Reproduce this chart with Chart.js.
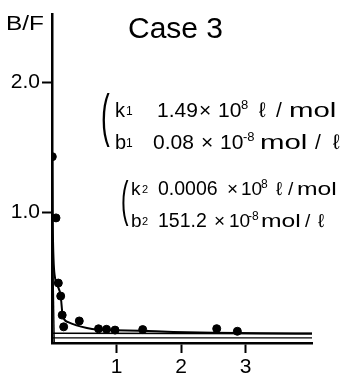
<!DOCTYPE html>
<html lang="en">
<head>
    <meta charset="UTF-8">
    <title>Case 3</title>
    <script src="https://cdn.jsdelivr.net/npm/chart.js"></script>
    <style>
        html, body { margin: 0; padding: 0; background: #fff; }
        .wrap { width: 349px; height: 379px; position: relative; }
    </style>
</head>
<body>
    <div class="wrap">
        <canvas id="myChart"></canvas>
    </div>
    <script>
        // measured points (B on x, B/F on y)
        const pointsX = [0.005, 0.062, 0.098, 0.135, 0.158, 0.181, 0.423, 0.721, 0.845, 0.977, 1.406, 2.553, 2.873];
        const pointsY = [1.43, 0.96, 0.46, 0.36, 0.214, 0.124, 0.169, 0.109, 0.105, 0.099, 0.103, 0.110, 0.090];

        // fitted curve
        const curveX = [0.005, 0.011, 0.047, 0.078, 0.135, 0.166, 0.25, 0.38, 0.54, 0.69, 0.98, 1.36, 1.88, 2.5, 3.22, 4.03];
        const curveY = [1.43, 0.92, 0.50, 0.45, 0.36, 0.21, 0.16, 0.135, 0.115, 0.103, 0.098, 0.094, 0.085, 0.079, 0.075, 0.073];

        // the two component lines + lower reference line
        const comp1X = [0.005, 0.035];
        const comp1Y = [0.9, 0];
        const comp2X = [0, 4.03];
        const comp2Y = [0.075, 0.072];
        const baseX = [0, 4.03];
        const baseY = [0.04, 0.04];

        const xTicks = [1, 2, 3];
        const yTicks = [1, 2];

        const xy = (xs, ys) => xs.map((x, i) => ({ x: x, y: ys[i] }));
        const FONT = '"Liberation Sans", Arial, sans-serif';

        // draws a run of text pieces: [text, x, size, baseline offset, horizontal stretch]
        function rich(ctx, y, parts) {
            for (const p of parts) {
                ctx.save();
                ctx.font = p[2] + 'px ' + FONT;
                ctx.translate(p[1], y + (p[3] || 0));
                ctx.scale(p[4] || 1, 1);
                ctx.fillText(p[0], 0, 0);
                ctx.restore();
            }
        }

        function paren(ctx, x, baseline, size) {
            ctx.save();
            ctx.font = size + 'px ' + FONT;
            ctx.translate(x, baseline);
            ctx.scale(0.45, 1);
            ctx.fillText('(', 0, 0);
            ctx.restore();
        }

        const labels = {
            id: 'labels',
            afterDraw(chart) {
                const ctx = chart.ctx;
                ctx.save();
                ctx.fillStyle = '#000';
                ctx.textAlign = 'left';
                ctx.textBaseline = 'alphabetic';

                rich(ctx, 30, [['B/F', 6, 19.5, 0, 1.25]]);
                rich(ctx, 38, [['Case 3', 128, 30]]);

                paren(ctx, 101, 135, 58);
                rich(ctx, 117, [
                    ['k', 115, 20], ['1', 126, 12, -2],
                    ['1.49', 157, 21], ['×', 199, 21], ['10', 218, 21],
                    ['8', 241, 13, -8], ['ℓ', 259, 21], ['/', 276, 21], ['mol', 289, 21, 0, 1.4]
                ]);
                rich(ctx, 149, [
                    ['b', 115, 20], ['1', 126, 12, -2],
                    ['0.08', 153, 21], ['×', 201, 21], ['10', 220, 21],
                    ['-8', 243, 13, -8], ['mol', 260, 21, 0, 1.4], ['/', 315, 21], ['ℓ', 333, 21]
                ]);

                paren(ctx, 121, 216, 50);
                rich(ctx, 195, [
                    ['k', 131, 19], ['2', 142, 11, -2],
                    ['0.0006', 158, 19.5], ['×', 227, 19], ['10', 241, 19],
                    ['8', 261, 12, -7], ['ℓ', 276, 19], ['/', 288, 19], ['mol', 297, 19, 0, 1.3]
                ]);
                rich(ctx, 227, [
                    ['b', 131, 19], ['2', 142, 11, -2],
                    ['151.2', 158, 19.5], ['×', 214, 19], ['10', 229, 19],
                    ['-8', 248, 12, -7], ['mol', 261, 19, 0, 1.3], ['/', 305, 19], ['ℓ', 318, 19]
                ]);
                ctx.restore();
            }
        };

        new Chart('myChart', {
            type: 'scatter',
            data: {
                datasets: [{
                    data: xy(pointsX, pointsY),
                    backgroundColor: '#000',
                    borderColor: '#000',
                    pointRadius: 4,
                    showLine: false
                }, {
                    data: xy(curveX, curveY),
                    borderColor: '#000',
                    borderWidth: 2,
                    pointRadius: 0,
                    showLine: true,
                    cubicInterpolationMode: 'monotone'
                }, {
                    data: xy(comp1X, comp1Y),
                    borderColor: '#000',
                    borderWidth: 1.3,
                    pointRadius: 0,
                    showLine: true
                }, {
                    data: xy(comp2X, comp2Y),
                    borderColor: '#000',
                    borderWidth: 1.6,
                    pointRadius: 0,
                    showLine: true
                }, {
                    data: xy(baseX, baseY),
                    borderColor: '#000',
                    borderWidth: 1.3,
                    pointRadius: 0,
                    showLine: true
                }]
            },
            options: {
                responsive: true,
                maintainAspectRatio: false,
                animation: false,
                layout: {
                    padding: { top: 8, right: 37, left: 0, bottom: 0 }
                },
                plugins: {
                    legend: { display: false },
                    tooltip: { enabled: false }
                },
                scales: {
                    x: {
                        type: 'linear',
                        min: 0,
                        max: 4.03,
                        afterBuildTicks: (scale) => { scale.ticks = xTicks.map(v => ({ value: v })); },
                        afterFit: (scale) => { scale.height = 36; },
                        ticks: {
                            color: '#000',
                            padding: 2,
                            font: { family: FONT, size: 21 },
                            callback: (v) => String(v)
                        },
                        grid: {
                            drawOnChartArea: false,
                            drawTicks: true,
                            tickLength: 10,
                            tickColor: '#000',
                            tickWidth: 2,
                            color: '#000'
                        },
                        border: { display: true, color: '#000', width: 2.5 }
                    },
                    y: {
                        min: 0,
                        max: 2.52,
                        afterBuildTicks: (scale) => { scale.ticks = yTicks.map(v => ({ value: v })); },
                        afterFit: (scale) => { scale.width = 52; },
                        ticks: {
                            color: '#000',
                            padding: 2,
                            font: { family: FONT, size: 21 },
                            callback: (v) => v.toFixed(1)
                        },
                        grid: {
                            drawOnChartArea: false,
                            drawTicks: true,
                            tickLength: 10,
                            tickColor: '#000',
                            tickWidth: 2,
                            color: '#000'
                        },
                        border: { display: true, color: '#000', width: 2.5 }
                    }
                }
            },
            plugins: [labels]
        });
    </script>
</body>
</html>
